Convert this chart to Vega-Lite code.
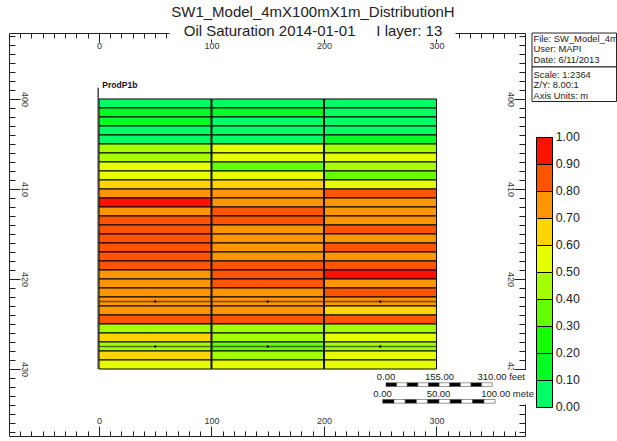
{"$schema":"https://vega.github.io/schema/vega-lite/v6.json","width":516,"height":403,"autosize":"none","padding":{"left":9,"top":33,"right":92,"bottom":5},"background":"white","view":{"stroke":null},
"config":{"text":{"font":"Liberation Sans"}},
"datasets":{
"rows":[
{"x":0,"x2":100,"y":400,"y2":401,"s":0.05},{"x":100,"x2":200,"y":400,"y2":401,"s":0.05},{"x":200,"x2":300,"y":400,"y2":401,"s":0.05},
{"x":0,"x2":100,"y":401,"y2":402,"s":0.15},{"x":100,"x2":200,"y":401,"y2":402,"s":0.15},{"x":200,"x2":300,"y":401,"y2":402,"s":0.05},
{"x":0,"x2":100,"y":402,"y2":403,"s":0.15},{"x":100,"x2":200,"y":402,"y2":403,"s":0.05},{"x":200,"x2":300,"y":402,"y2":403,"s":0.05},
{"x":0,"x2":100,"y":403,"y2":404,"s":0.05},{"x":100,"x2":200,"y":403,"y2":404,"s":0.05},{"x":200,"x2":300,"y":403,"y2":404,"s":0.05},
{"x":0,"x2":100,"y":404,"y2":405,"s":0.05},{"x":100,"x2":200,"y":404,"y2":405,"s":0.05},{"x":200,"x2":300,"y":404,"y2":405,"s":0.15},
{"x":0,"x2":100,"y":405,"y2":406,"s":0.45},{"x":100,"x2":200,"y":405,"y2":406,"s":0.55},{"x":200,"x2":300,"y":405,"y2":406,"s":0.45},
{"x":0,"x2":100,"y":406,"y2":407,"s":0.45},{"x":100,"x2":200,"y":406,"y2":407,"s":0.55},{"x":200,"x2":300,"y":406,"y2":407,"s":0.55},
{"x":0,"x2":100,"y":407,"y2":408,"s":0.55},{"x":100,"x2":200,"y":407,"y2":408,"s":0.35},{"x":200,"x2":300,"y":407,"y2":408,"s":0.45},
{"x":0,"x2":100,"y":408,"y2":409,"s":0.55},{"x":100,"x2":200,"y":408,"y2":409,"s":0.55},{"x":200,"x2":300,"y":408,"y2":409,"s":0.35},
{"x":0,"x2":100,"y":409,"y2":410,"s":0.65},{"x":100,"x2":200,"y":409,"y2":410,"s":0.65},{"x":200,"x2":300,"y":409,"y2":410,"s":0.55},
{"x":0,"x2":100,"y":410,"y2":411,"s":0.75},{"x":100,"x2":200,"y":410,"y2":411,"s":0.75},{"x":200,"x2":300,"y":410,"y2":411,"s":0.85},
{"x":0,"x2":100,"y":411,"y2":412,"s":0.95},{"x":100,"x2":200,"y":411,"y2":412,"s":0.75},{"x":200,"x2":300,"y":411,"y2":412,"s":0.75},
{"x":0,"x2":100,"y":412,"y2":413,"s":0.75},{"x":100,"x2":200,"y":412,"y2":413,"s":0.85},{"x":200,"x2":300,"y":412,"y2":413,"s":0.75},
{"x":0,"x2":100,"y":413,"y2":414,"s":0.85},{"x":100,"x2":200,"y":413,"y2":414,"s":0.85},{"x":200,"x2":300,"y":413,"y2":414,"s":0.75},
{"x":0,"x2":100,"y":414,"y2":415,"s":0.85},{"x":100,"x2":200,"y":414,"y2":415,"s":0.75},{"x":200,"x2":300,"y":414,"y2":415,"s":0.85},
{"x":0,"x2":100,"y":415,"y2":416,"s":0.85},{"x":100,"x2":200,"y":415,"y2":416,"s":0.75},{"x":200,"x2":300,"y":415,"y2":416,"s":0.75},
{"x":0,"x2":100,"y":416,"y2":417,"s":0.85},{"x":100,"x2":200,"y":416,"y2":417,"s":0.75},{"x":200,"x2":300,"y":416,"y2":417,"s":0.85},
{"x":0,"x2":100,"y":417,"y2":418,"s":0.85},{"x":100,"x2":200,"y":417,"y2":418,"s":0.75},{"x":200,"x2":300,"y":417,"y2":418,"s":0.75},
{"x":0,"x2":100,"y":418,"y2":419,"s":0.85},{"x":100,"x2":200,"y":418,"y2":419,"s":0.85},{"x":200,"x2":300,"y":418,"y2":419,"s":0.85},
{"x":0,"x2":100,"y":419,"y2":420,"s":0.75},{"x":100,"x2":200,"y":419,"y2":420,"s":0.85},{"x":200,"x2":300,"y":419,"y2":420,"s":0.95},
{"x":0,"x2":100,"y":420,"y2":421,"s":0.75},{"x":100,"x2":200,"y":420,"y2":421,"s":0.85},{"x":200,"x2":300,"y":420,"y2":421,"s":0.75},
{"x":0,"x2":100,"y":421,"y2":422,"s":0.75},{"x":100,"x2":200,"y":421,"y2":422,"s":0.75},{"x":200,"x2":300,"y":421,"y2":422,"s":0.85},
{"x":0,"x2":100,"y":422,"y2":423,"s":0.75},{"x":100,"x2":200,"y":422,"y2":423,"s":0.75},{"x":200,"x2":300,"y":422,"y2":423,"s":0.75},
{"x":0,"x2":100,"y":423,"y2":424,"s":0.75},{"x":100,"x2":200,"y":423,"y2":424,"s":0.75},{"x":200,"x2":300,"y":423,"y2":424,"s":0.65},
{"x":0,"x2":100,"y":424,"y2":425,"s":0.85},{"x":100,"x2":200,"y":424,"y2":425,"s":0.85},{"x":200,"x2":300,"y":424,"y2":425,"s":0.85},
{"x":0,"x2":100,"y":425,"y2":426,"s":0.45},{"x":100,"x2":200,"y":425,"y2":426,"s":0.45},{"x":200,"x2":300,"y":425,"y2":426,"s":0.45},
{"x":0,"x2":100,"y":426,"y2":427,"s":0.65},{"x":100,"x2":200,"y":426,"y2":427,"s":0.45},{"x":200,"x2":300,"y":426,"y2":427,"s":0.55},
{"x":0,"x2":100,"y":427,"y2":428,"s":0.45},{"x":100,"x2":200,"y":427,"y2":428,"s":0.35},{"x":200,"x2":300,"y":427,"y2":428,"s":0.45},
{"x":0,"x2":100,"y":428,"y2":429,"s":0.65},{"x":100,"x2":200,"y":428,"y2":429,"s":0.45},{"x":200,"x2":300,"y":428,"y2":429,"s":0.55},
{"x":0,"x2":100,"y":429,"y2":430,"s":0.55},{"x":100,"x2":200,"y":429,"y2":430,"s":0.55},{"x":200,"x2":300,"y":429,"y2":430,"s":0.55}
],
"masks":[{"x":62.7,"x2":316.9,"y":388.9,"y2":393.39},{"x":236,"x2":384.4,"y":430.11,"y2":433.94}],
"titles":[{"x":190.2,"y":390.28,"t":"SW1_Model_4mX100mX1m_DistributionH"},{"x":190.2,"y":392.39,"t":"Oil Saturation 2014-01-01\u00a0\u00a0\u00a0\u00a0\u00a0I layer: 13"}],
"infobox":[{"x":384.9,"x2":460,"y":392.67,"y2":396.44},{"x":384.9,"x2":460,"y":396.44,"y2":400.28}],
"info":[{"x":386.2,"y":393.28,"t":"File: SW_Model_4m"},{"x":386.2,"y":394.39,"t":"User:  MAPI"},{"x":386.2,"y":395.72,"t":"Date: 6/11/2013"},{"x":386.2,"y":397.28,"t":"Scale: 1:2364"},{"x":386.2,"y":398.5,"t":"Z/Y: 8.00:1"},{"x":386.2,"y":399.72,"t":"Axis Units: m"}],
"wells":[{"x":0,"x2":300,"y":422.5},{"x":0,"x2":300,"y":427.5}],
"dots":[{"x":50,"y":422.5},{"x":150,"y":422.5},{"x":250,"y":422.5},{"x":50,"y":427.5},{"x":150,"y":427.5},{"x":250,"y":427.5}],
"cols":[{"x":100,"y":400,"y2":430},{"x":200,"y":400,"y2":430}],
"stem":[{"x":-0.7,"y":398.75,"y2":430}],
"wl":[{"x":3,"y":399.0,"t":"ProdP1b"}],
"barF":[{"x":255.1,"x2":264.55,"y":431.53,"y2":431.94,"k":"b"},{"x":264.55,"x2":274,"y":431.53,"y2":431.94,"k":"w"},{"x":274,"x2":283.45,"y":431.53,"y2":431.94,"k":"b"},{"x":283.45,"x2":292.9,"y":431.53,"y2":431.94,"k":"w"},{"x":292.9,"x2":302.35,"y":431.53,"y2":431.94,"k":"b"},{"x":302.35,"x2":311.8,"y":431.53,"y2":431.94,"k":"w"},{"x":311.8,"x2":321.25,"y":431.53,"y2":431.94,"k":"b"},{"x":321.25,"x2":330.7,"y":431.53,"y2":431.94,"k":"w"},{"x":330.7,"x2":340.15,"y":431.53,"y2":431.94,"k":"b"},{"x":340.15,"x2":349.6,"y":431.53,"y2":431.94,"k":"w"},
{"x":252.2,"x2":262.2,"y":433.39,"y2":433.8,"k":"b"},{"x":262.2,"x2":272.2,"y":433.39,"y2":433.8,"k":"w"},{"x":272.2,"x2":282.2,"y":433.39,"y2":433.8,"k":"b"},{"x":282.2,"x2":292.2,"y":433.39,"y2":433.8,"k":"w"},{"x":292.2,"x2":302.2,"y":433.39,"y2":433.8,"k":"b"},{"x":302.2,"x2":312.2,"y":433.39,"y2":433.8,"k":"w"},{"x":312.2,"x2":322.2,"y":433.39,"y2":433.8,"k":"b"},{"x":322.2,"x2":332.2,"y":433.39,"y2":433.8,"k":"w"},{"x":332.2,"x2":342.2,"y":433.39,"y2":433.8,"k":"b"},{"x":342.2,"x2":352.2,"y":433.39,"y2":433.8,"k":"w"}],
"barC":[{"x":255.1,"y":430.91,"t":"0.00"},{"x":302.7,"y":430.91,"t":"155.00"},{"x":252,"y":432.76,"t":"0.00"},{"x":301.8,"y":432.76,"t":"50.00"}],
"barL":[{"x":336.4,"y":430.91,"t":"310.00 feet"},{"x":339.7,"y":432.76,"t":"100.00 mete"}],
"cbar":[{"x":0,"x2":1,"y":0,"y2":0.1,"s":0.05},{"x":0,"x2":1,"y":0.1,"y2":0.2,"s":0.15},{"x":0,"x2":1,"y":0.2,"y2":0.3,"s":0.25},{"x":0,"x2":1,"y":0.3,"y2":0.4,"s":0.35},{"x":0,"x2":1,"y":0.4,"y2":0.5,"s":0.45},{"x":0,"x2":1,"y":0.5,"y2":0.6,"s":0.55},{"x":0,"x2":1,"y":0.6,"y2":0.7,"s":0.65},{"x":0,"x2":1,"y":0.7,"y2":0.8,"s":0.75},{"x":0,"x2":1,"y":0.8,"y2":0.9,"s":0.85},{"x":0,"x2":1,"y":0.9,"y2":1,"s":0.95}],
"clab":[{"x":1.2,"y":0,"t":"0.00"},{"x":1.2,"y":0.1,"t":"0.10"},{"x":1.2,"y":0.2,"t":"0.20"},{"x":1.2,"y":0.3,"t":"0.30"},{"x":1.2,"y":0.4,"t":"0.40"},{"x":1.2,"y":0.5,"t":"0.50"},{"x":1.2,"y":0.6,"t":"0.60"},{"x":1.2,"y":0.7,"t":"0.70"},{"x":1.2,"y":0.8,"t":"0.80"},{"x":1.2,"y":0.9,"t":"0.90"},{"x":1.2,"y":1,"t":"1.00"}]
},
"resolve":{"scale":{"x":"independent","y":"independent"},"axis":{"x":"independent","y":"independent"}},
"layer":[
{"resolve":{"axis":{"x":"independent","y":"independent"}},
"encoding":{
"x":{"field":"x","type":"quantitative","axis":null,"scale":{"domain":[-80,378.67],"nice":false,"zero":false}},
"y":{"field":"y","type":"quantitative","axis":null,"scale":{"domain":[392.667,437.444],"nice":false,"zero":false,"reverse":true}}},
"layer":[
{"data":{"name":"masks"},"mark":{"type":"rect","fill":"white","stroke":null},
"encoding":{
"x":{"field":"x","type":"quantitative","scale":{"domain":[-80,378.67],"nice":false,"zero":false},
"axis":{"orient":"bottom","title":null,"values":[-70,-60,-50,-40,-30,-20,-10,0,10,20,30,40,50,60,70,80,90,100,110,120,130,140,150,160,170,180,190,200,210,220,230,240,250,260,270,280,290,300,310,320,330,340,350,360,370],"labelExpr":"datum.value%100==0?datum.label:''","labelFont":"Liberation Sans","labelFontSize":9,"labelColor":"#333","labelPadding":-10,"tickSize":{"condition":{"test":"datum.value%100==0","value":-10},"value":-5},"tickColor":"#222","domainColor":"#222","labelFlush":false,"labelOverlap":false,"grid":false}},
"x2":{"field":"x2"},
"y":{"field":"y","type":"quantitative","scale":{"domain":[392.667,437.444],"nice":false,"zero":false,"reverse":true},
"axis":{"orient":"right","title":null,"values":[393,394,395,396,397,398,399,400,401,402,403,404,405,406,407,408,409,410,411,412,413,414,415,416,417,418,419,420,421,422,423,424,425,426,427,428,429,430,431,432,433,434,435,436,437],"labelExpr":"datum.value%10==0?datum.label:''","labelFont":"Liberation Sans","labelFontSize":9,"labelColor":"#333","labelAngle":90,"labelAlign":"center","labelBaseline":"middle","labelPadding":-4,"tickSize":{"condition":{"test":"datum.value%10==0","value":-11},"value":-6},"tickColor":"#222","domainColor":"#222","labelOverlap":false,"grid":false}},
"y2":{"field":"y2"}}},
{"data":{"name":"titles"},"mark":{"type":"text","align":"center","baseline":"middle","fontSize":15,"color":"#222"},"encoding":{"text":{"field":"t"}}},
{"data":{"name":"rows"},"mark":{"type":"rect","stroke":"black","strokeWidth":1},
"encoding":{
"x":{"field":"x","type":"quantitative","scale":{"domain":[-80,378.67],"nice":false,"zero":false},
"axis":{"orient":"top","title":null,"values":[-70,-60,-50,-40,-30,-20,-10,0,10,20,30,40,50,60,70,80,90,100,110,120,130,140,150,160,170,180,190,200,210,220,230,240,250,260,270,280,290,300,310,320,330,340,350,360,370],"labelExpr":"datum.value%100==0?datum.label:''","labelFont":"Liberation Sans","labelFontSize":9,"labelColor":"#333","labelPadding":-8.5,"tickSize":{"condition":{"test":"datum.value%100==0","value":-9},"value":-5},"tickColor":"#222","domainColor":"#222","labelOverlap":false,"grid":false}},
"x2":{"field":"x2"},
"y":{"field":"y","type":"quantitative","scale":{"domain":[392.667,437.444],"nice":false,"zero":false,"reverse":true},
"axis":{"orient":"left","title":null,"values":[393,394,395,396,397,398,399,400,401,402,403,404,405,406,407,408,409,410,411,412,413,414,415,416,417,418,419,420,421,422,423,424,425,426,427,428,429,430,431,432,433,434,435,436,437],"labelExpr":"datum.value%10==0?datum.label:''","labelFont":"Liberation Sans","labelFontSize":9,"labelColor":"#333","labelAngle":90,"labelAlign":"center","labelBaseline":"middle","labelPadding":-4.5,"tickSize":{"condition":{"test":"datum.value%10==0","value":-11},"value":-6},"tickColor":"#222","domainColor":"#222","labelOverlap":false,"grid":false}},
"y2":{"field":"y2"},
"color":{"field":"s","type":"quantitative","legend":null,"scale":{"type":"threshold","domain":[0.1,0.2,0.3,0.4,0.5,0.6,0.7,0.8,0.9],"range":["#00FF66","#00FF22","#11FF00","#66FF00","#A5FF00","#E6FF00","#FFD500","#FF9500","#FF5500","#FF1100"]}}}},
{"data":{"name":"cols"},"mark":{"type":"rule","stroke":"#111","strokeWidth":2},"encoding":{"y2":{"field":"y2"}}},
{"data":{"name":"stem"},"mark":{"type":"rule","stroke":"#444","strokeWidth":1.5},"encoding":{"y2":{"field":"y2"}}},
{"data":{"name":"wells"},"mark":{"type":"rule","stroke":"#222","strokeWidth":1.5,"opacity":0.65},"encoding":{"x2":{"field":"x2"}}},
{"data":{"name":"dots"},"mark":{"type":"point","filled":true,"fill":"black","size":6,"opacity":1},"encoding":{}},
{"data":{"name":"wl"},"mark":{"type":"text","align":"left","baseline":"bottom","fontSize":8.5,"fontWeight":"bold","color":"#111"},"encoding":{"text":{"field":"t"}}},
{"data":{"name":"infobox"},"mark":{"type":"rect","fill":"white","stroke":"#222","strokeWidth":1},"encoding":{"x2":{"field":"x2"},"y2":{"field":"y2"}}},
{"data":{"name":"info"},"mark":{"type":"text","align":"left","baseline":"middle","fontSize":9.4,"color":"#222"},"encoding":{"text":{"field":"t"}}},
{"data":{"name":"barF"},"mark":{"type":"rect","stroke":"#333","strokeWidth":0.5},"encoding":{"x2":{"field":"x2"},"y2":{"field":"y2"},"fill":{"field":"k","type":"nominal","legend":null,"scale":{"domain":["b","w"],"range":["black","white"]}}}},
{"data":{"name":"barC"},"mark":{"type":"text","align":"center","baseline":"middle","fontSize":9.5,"color":"#222"},"encoding":{"text":{"field":"t"}}},
{"data":{"name":"barL"},"mark":{"type":"text","align":"left","baseline":"middle","fontSize":9.5,"color":"#222"},"encoding":{"text":{"field":"t"}}}
]},
{"encoding":{
"x":{"field":"x","type":"quantitative","axis":null,"scale":{"domain":[-32.97,-0.719],"nice":false,"zero":false}},
"y":{"field":"y","type":"quantitative","axis":null,"scale":{"domain":[-0.1056,1.387],"nice":false,"zero":false}}},
"layer":[
{"data":{"name":"cbar"},"mark":{"type":"rect","stroke":"black","strokeWidth":1},"encoding":{"x2":{"field":"x2"},"y2":{"field":"y2"},"color":{"field":"s","type":"quantitative","legend":null,"scale":{"type":"threshold","domain":[0.1,0.2,0.3,0.4,0.5,0.6,0.7,0.8,0.9],"range":["#00FF66","#00FF22","#11FF00","#66FF00","#A5FF00","#E6FF00","#FFD500","#FF9500","#FF5500","#FF1100"]}}}},
{"data":{"name":"clab"},"mark":{"type":"text","align":"left","baseline":"middle","fontSize":12.4,"color":"#222"},"encoding":{"text":{"field":"t"}}}
]}
]}
